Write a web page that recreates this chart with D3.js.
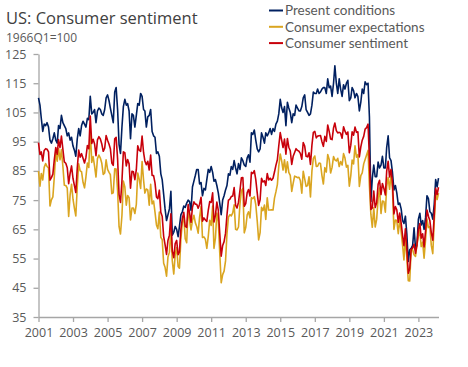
<!DOCTYPE html>
<html>
<head>
<meta charset="utf-8">
<script src="https://cdn.jsdelivr.net/npm/d3@7"></script>
<style>
  html, body { margin: 0; padding: 0; background: #fff; }
  svg { display: block; font-family: "Open Sans", "Noto Sans", sans-serif; }
</style>
</head>
<body>
<svg id="chart" width="468" height="367"></svg>
<script>
// Monthly data, Jan 2001 – Mar 2024 (index, 1966Q1=100)
const firstMonth = "2001-01";
const seriesNames = ["Present conditions", "Consumer expectations", "Consumer sentiment"];

const presentConditions = [
  110.0,107.5,103.0,98.5,101.0,100.5,101.5,100.0,95.5,94.5,96.0,98.0,
  95.5,94.5,100.5,99.5,104.0,101.5,100.5,99.5,97.0,98.0,95.5,96.5,
  93.5,92.0,90.0,96.0,99.5,97.0,100.5,102.0,101.0,100.0,103.0,102.5,
  110.5,104.5,105.0,106.0,101.5,105.5,106.5,106.0,104.5,104.0,106.0,110.0,
  111.0,109.0,106.5,104.0,101.5,112.0,113.5,106.0,94.0,91.0,100.0,107.0,
  109.5,107.5,108.0,105.5,96.0,104.5,104.0,100.0,104.0,108.0,107.5,111.5,
  110.5,106.0,105.5,100.0,103.5,104.0,106.0,98.5,97.0,96.5,91.0,91.5,
  90.0,84.0,82.0,77.0,72.0,68.0,70.0,72.0,78.0,63.0,64.0,66.0,
  65.0,62.5,66.0,70.0,71.0,73.0,72.5,74.0,75.0,74.5,71.5,79.5,
  81.5,83.5,85.5,85.5,80.5,81.0,76.5,79.0,78.5,82.0,85.5,84.5,
  86.5,84.5,81.5,82.0,80.0,77.5,74.0,70.0,75.0,76.5,78.5,80.0,
  84.0,83.5,86.5,85.5,88.5,86.0,84.0,87.5,85.5,89.5,88.5,87.0,
  86.5,89.5,90.5,88.0,98.0,97.5,99.0,95.5,92.5,91.5,92.5,98.0,
  96.5,94.5,98.0,97.0,98.0,99.5,97.5,99.5,98.5,101.0,102.0,104.5,
  109.5,106.5,105.0,107.0,100.5,108.5,106.5,105.0,101.5,104.5,104.0,107.5,
  106.5,105.5,105.5,107.0,110.0,111.0,106.0,105.0,104.0,104.5,107.5,112.0,
  111.5,111.5,113.0,111.5,112.0,113.0,113.5,113.5,111.5,116.5,113.5,114.0,
  110.5,115.0,121.0,115.0,111.5,116.5,113.0,110.5,114.5,113.0,115.0,116.0,
  109.0,110.0,113.5,112.5,110.0,111.5,110.5,105.5,108.5,113.0,111.5,115.5,
  114.5,115.0,103.5,74.5,82.5,87.0,83.0,83.0,88.0,86.0,87.0,90.0,
  86.0,86.0,93.0,97.0,89.5,88.5,84.5,78.5,80.0,77.5,73.5,74.0,
  72.0,68.0,67.0,69.5,63.5,54.0,58.0,58.5,59.5,65.5,58.5,59.5,
  68.5,70.5,66.5,68.0,65.0,69.0,76.5,75.5,71.0,70.5,68.5,73.5,
  82.0,79.5,82.5
];

const consumerExpectations = [
  84.9,79.8,84.1,81.9,86.2,87.5,86.5,86.0,73.0,75.1,76.1,82.9,
  91.4,88.3,92.6,88.8,92.3,86.5,80.1,80.0,79.1,69.4,76.9,80.4,
  75.3,72.1,69.6,79.6,87.4,85.0,84.7,81.1,79.2,82.9,87.7,86.2,
  99.5,87.9,89.9,86.6,82.9,89.2,90.4,89.4,87.6,83.8,84.3,88.8,
  85.5,84.5,83.7,77.2,77.5,85.7,85.6,78.2,65.9,63.4,69.8,81.5,
  79.5,73.3,76.6,75.8,68.2,72.3,72.3,70.4,73.5,84.3,82.2,79.0,
  88.2,81.9,77.4,78.8,78.5,73.3,80.4,73.7,74.7,70.9,66.5,65.2,
  70.9,62.3,61.5,53.4,52.0,49.0,55.5,57.2,65.3,54.1,49.7,56.3,
  58.8,52.3,51.7,61.9,67.2,69.4,61.8,60.4,72.5,68.1,64.8,68.0,
  69.8,67.2,66.0,63.7,69.2,72.8,62.2,62.4,61.6,58.5,62.7,68.1,
  66.3,73.0,58.5,62.0,70.6,67.6,57.1,46.7,49.5,50.7,54.2,63.4,
  69.2,70.0,69.6,70.6,73.4,65.0,64.8,65.8,73.7,78.2,79.0,63.8,
  65.6,70.0,71.0,68.9,75.8,75.5,76.2,73.5,67.9,61.4,63.9,72.5,
  71.4,73.3,68.4,75.8,71.6,71.6,71.7,71.6,75.7,77.8,80.3,86.6,
  90.8,88.3,85.3,88.8,84.4,88.1,84.5,83.5,78.0,80.7,83.2,83.0,
  82.7,82.8,81.7,77.4,84.9,82.3,79.7,80.0,83.0,76.1,85.0,89.3,
  90.1,86.5,86.6,87.7,87.5,83.4,80.5,86.1,84.6,90.6,88.9,84.3,
  86.2,89.9,88.8,88.4,89.3,86.5,88.2,87.0,90.9,89.4,86.3,86.9,
  79.8,83.4,88.7,87.4,93.6,89.7,90.6,79.7,83.4,84.3,87.4,88.9,
  90.4,92.0,79.8,70.1,65.7,72.4,65.8,68.4,75.5,79.1,70.4,74.7,
  74.5,70.9,79.7,82.7,78.7,83.6,79.1,65.0,68.2,68.0,63.5,68.4,
  64.1,59.5,54.5,62.4,55.1,47.4,47.3,58.0,58.0,56.3,55.7,59.8,
  62.6,64.8,59.1,60.6,55.1,61.4,68.5,65.6,65.9,59.5,56.7,67.3,
  77.1,75.2,77.4
];

const consumerSentiment = [
  94.7,90.6,91.5,88.4,92.0,92.6,92.4,91.5,81.8,82.7,83.9,88.8,
  93.0,90.7,95.7,93.0,96.9,92.4,88.1,87.6,86.1,80.6,84.2,86.7,
  82.4,79.9,77.6,86.0,92.1,89.7,90.9,89.3,87.7,89.6,93.7,92.6,
  103.8,94.4,95.8,94.2,90.2,95.6,96.7,95.9,94.2,91.7,92.8,97.1,
  95.5,94.1,92.6,87.7,86.9,96.0,96.5,89.1,76.9,74.2,81.6,91.5,
  91.2,86.7,88.9,87.4,79.1,84.9,84.7,82.0,85.4,93.6,92.1,91.7,
  96.9,91.3,88.4,87.1,88.3,85.3,90.4,83.4,83.4,80.9,76.1,75.5,
  78.4,70.8,69.5,62.6,59.8,56.4,61.2,63.0,70.3,57.6,55.3,60.1,
  61.2,56.3,57.3,65.1,68.7,70.8,66.0,65.7,73.5,70.6,67.4,72.5,
  74.4,73.6,73.6,72.2,73.6,76.0,67.8,68.9,68.2,67.7,71.6,74.5,
  74.2,77.5,67.5,69.8,74.3,71.5,63.7,55.8,59.5,60.8,63.7,69.9,
  75.0,75.3,76.2,76.4,79.3,73.2,72.3,74.3,78.3,82.6,82.7,72.9,
  73.8,77.6,78.6,76.4,84.5,84.1,85.1,82.1,77.5,73.2,75.1,82.5,
  81.2,81.6,80.0,84.1,81.9,82.5,81.8,82.5,84.6,86.9,88.8,93.6,
  98.1,95.4,93.0,95.9,90.7,96.1,93.1,91.9,87.2,90.0,91.3,92.6,
  92.0,91.7,91.0,89.0,94.7,93.5,90.0,89.8,91.2,87.2,93.8,98.2,
  98.5,96.3,96.9,97.0,97.1,95.0,93.4,96.8,95.1,100.7,98.5,95.9,
  95.7,99.7,101.4,98.8,98.0,98.2,97.9,96.2,100.1,98.6,97.5,98.3,
  91.2,93.8,98.4,97.2,100.0,98.2,98.4,89.8,93.2,95.5,96.8,99.3,
  99.8,101.0,89.1,71.8,72.3,78.1,72.5,74.1,80.4,81.8,76.9,80.7,
  79.0,76.8,84.9,88.3,82.9,85.5,81.2,70.3,72.8,71.7,67.4,70.6,
  67.2,62.8,59.4,65.2,58.4,50.0,51.5,58.2,58.6,59.9,56.8,59.7,
  64.9,67.0,62.0,63.5,59.0,64.4,71.6,69.5,67.9,63.8,61.3,69.7,
  79.0,76.9,79.4
];

const yTickValues = [35, 45, 55, 65, 75, 85, 95, 105, 115, 125];
const xTickYears = [2001, 2003, 2005, 2007, 2009, 2011, 2013, 2015, 2017, 2019, 2021, 2023];

// ---- drawing ----
(function () {
  const svg = d3.select("#chart");
  const colors = ["#002060", "#DAA520", "#C8000A"];
  const textColor = "#595959";
  const axisColor = "#A6A6A6";

  const parseMonth = d3.timeParse("%Y-%m");
  const start = parseMonth(firstMonth);
  const dates = presentConditions.map((_, i) => d3.timeMonth.offset(start, i));

  const mLeft = 38.5, mRight = 438.5, mTop = 54, mBottom = 317;

  const x = d3.scaleTime().domain([dates[0], dates[dates.length - 1]]).range([mLeft, mRight]);
  const y = d3.scaleLinear().domain([35, 125]).range([mBottom, mTop]);

  const yAxis = d3.axisLeft(y).tickValues(yTickValues).tickSize(5).tickSizeOuter(0).tickPadding(7);
  const gy = svg.append("g").attr("transform", `translate(${mLeft},0)`).call(yAxis);

  const xAxis = d3.axisBottom(x)
    .tickValues(xTickYears.map(yr => new Date(yr, 0, 1)))
    .tickFormat(d3.timeFormat("%Y"))
    .tickSize(5).tickSizeOuter(0).tickPadding(6);
  const gx = svg.append("g").attr("transform", `translate(0,${mBottom})`).call(xAxis);

  [gx, gy].forEach(g => {
    g.select(".domain").attr("stroke", axisColor).attr("stroke-width", 1.3);
    g.selectAll(".tick line").attr("stroke", axisColor).attr("stroke-width", 1.3);
    g.selectAll(".tick text").attr("fill", textColor).attr("font-size", 12.5)
      .attr("font-family", "Open Sans, Noto Sans, sans-serif");
  });

  const seriesData = [presentConditions, consumerExpectations, consumerSentiment];
  const line = d3.line().x((d, i) => x(dates[i])).y(d => y(d));
  seriesData.forEach((vals, k) => {
    svg.append("path")
      .datum(vals)
      .attr("fill", "none")
      .attr("stroke", colors[k])
      .attr("stroke-width", 1.6)
      .attr("stroke-linejoin", "round")
      .attr("d", line);
  });

  svg.append("text").attr("x", 6).attr("y", 24)
    .attr("fill", "#404040").attr("font-size", 16.5)
    .text("US: Consumer sentiment");
  svg.append("text").attr("x", 6).attr("y", 42)
    .attr("fill", textColor).attr("font-size", 12)
    .text("1966Q1=100");

  const legend = svg.append("g");
  seriesNames.forEach((name, k) => {
    const ly = 10.5 + k * 16.3;
    legend.append("line").attr("x1", 269).attr("x2", 283).attr("y1", ly).attr("y2", ly)
      .attr("stroke", colors[k]).attr("stroke-width", 2);
    legend.append("text").attr("x", 285).attr("y", ly + 4.8)
      .attr("fill", textColor).attr("font-size", 13.5)
      .attr("font-family", "Lato, sans-serif")
      .text(name);
  });
})();
</script>
</body>
</html>
